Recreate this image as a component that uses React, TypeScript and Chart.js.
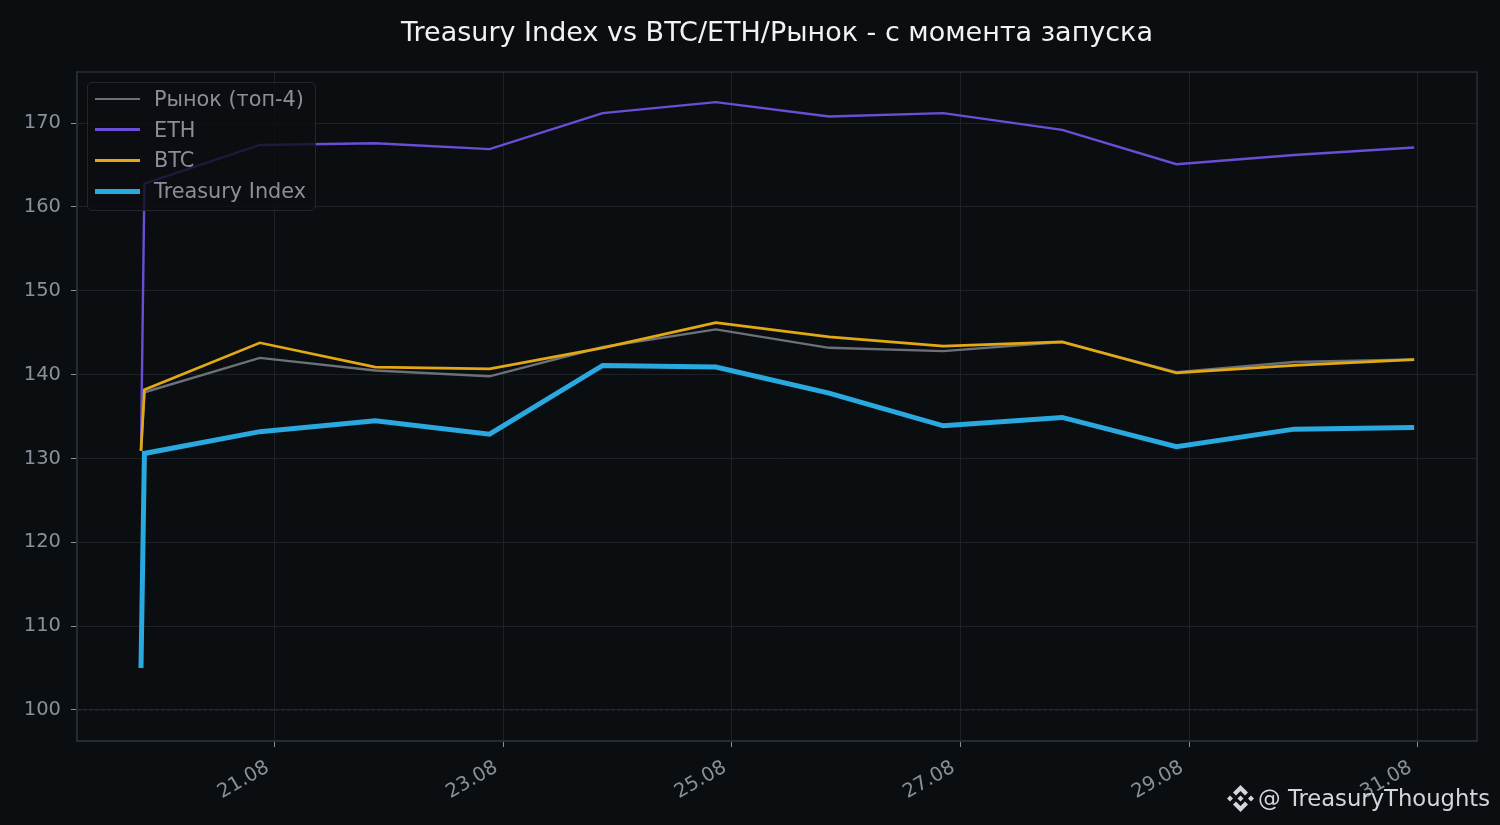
import { useEffect, useRef } from 'react';
import { Chart, registerables } from 'chart.js';
import type { Plugin } from 'chart.js';

Chart.register(...registerables);

// x: day of August (fractional), one point per daily close
const DAYS = [19.83, 19.86, 20.87, 21.88, 22.88, 23.87, 24.86, 25.85, 26.85, 27.89, 28.89, 29.92, 30.97];
const MARKET = [130.9, 137.9, 142.0, 140.5, 139.8, 143.3, 145.4, 143.2, 142.8, 143.9, 140.3, 141.5, 141.8];
const ETH = [130.9, 162.8, 167.4, 167.6, 166.9, 171.2, 172.5, 170.8, 171.2, 169.2, 165.1, 166.2, 167.1];
const BTC = [130.9, 138.2, 143.8, 140.9, 140.7, 143.2, 146.2, 144.5, 143.4, 143.9, 140.2, 141.1, 141.8];
const TREASURY = [105.0, 130.6, 133.2, 134.5, 132.9, 141.1, 140.9, 137.8, 133.9, 134.9, 131.4, 133.5, 133.7];

const X_TICKS = [21, 23, 25, 27, 29, 31]; // labelled days
const Y_TICKS = [100, 110, 120, 130, 140, 150, 160, 170];
const BASELINE = 100; // launch level, dashed
const X_MIN = 19.27;
const X_MAX = 31.52;
const Y_MIN = 96.3;
const Y_MAX = 176.1;

const TITLE = 'Treasury Index vs BTC/ETH/Рынок - с момента запуска';
const WATERMARK = '@ TreasuryThoughts';

const BG = '#0b0e11';
const GRID = '#1e2227';
const SPINE = '#2a2e35';
const TICK_TEXT = '#8a9099';
const FONT = "'DejaVu Sans', sans-serif";

// legend order = list order, later entries drawn on top
const SERIES = [
  { label: 'Рынок (топ-4)', values: MARKET, color: '#6c7179', width: 2.4 },
  { label: 'ETH', values: ETH, color: '#6a4ed6', width: 2.4 },
  { label: 'BTC', values: BTC, color: '#e2a914', width: 2.7 },
  { label: 'Treasury Index', values: TREASURY, color: '#29a9e0', width: 5 },
];

// spines on top/right + dashed line at 100
const framePlugin: Plugin = {
  id: 'frame',
  beforeDatasetsDraw(chart) {
    const { ctx, chartArea, scales } = chart;
    const y = scales.y.getPixelForValue(BASELINE);
    ctx.save();
    ctx.strokeStyle = SPINE;
    ctx.lineWidth = 1.2;
    ctx.setLineDash([4, 2]);
    ctx.beginPath();
    ctx.moveTo(chartArea.left, y);
    ctx.lineTo(chartArea.right, y);
    ctx.stroke();
    ctx.setLineDash([]);
    ctx.lineWidth = 1.5;
    ctx.strokeRect(chartArea.left, chartArea.top, chartArea.right - chartArea.left, chartArea.bottom - chartArea.top);
    ctx.restore();
  },
};

// title centred over the plot area
const titlePlugin: Plugin = {
  id: 'plotTitle',
  afterDraw(chart) {
    const { ctx, chartArea } = chart;
    ctx.save();
    ctx.fillStyle = '#f2f2f2';
    ctx.font = `27px ${FONT}`;
    ctx.textAlign = 'center';
    ctx.textBaseline = 'middle';
    ctx.fillText(TITLE, (chartArea.left + chartArea.right) / 2, 34);
    ctx.restore();
  },
};

function BinanceMark() {
  return (
    <svg width="27" height="27" viewBox="0 0 27 27" style={{ position: 'absolute', left: 1227, top: 785 }}>
      <g fill="#d3d6da">
        <polygon points="0,13.5 3,10.5 6,13.5 3,16.5" />
        <polygon points="21,13.5 24,10.5 27,13.5 24,16.5" />
        <polygon points="10.5,13.5 13.5,10.5 16.5,13.5 13.5,16.5" />
        <polygon points="13.5,0 21,7.5 18,10.5 13.5,6 9,10.5 6,7.5" />
        <polygon points="13.5,27 21,19.5 18,16.5 13.5,21 9,16.5 6,19.5" />
      </g>
    </svg>
  );
}

export default function App() {
  const canvasRef = useRef<HTMLCanvasElement>(null);
  const chartRef = useRef<Chart | null>(null);

  useEffect(() => {
    if (!canvasRef.current) return;
    chartRef.current?.destroy();

    chartRef.current = new Chart(canvasRef.current, {
      type: 'line',
      data: {
        datasets: SERIES.map((s, i) => ({
          label: s.label,
          data: DAYS.map((d, k) => ({ x: d, y: s.values[k] })),
          borderColor: s.color,
          backgroundColor: s.color,
          borderWidth: s.width,
          pointRadius: 0,
          tension: 0,
          order: SERIES.length - i, // last series on top
        })),
      },
      options: {
        animation: false,
        responsive: true,
        maintainAspectRatio: false,
        layout: { padding: { top: 72, right: 23, left: 0, bottom: 0 } },
        plugins: {
          legend: { display: false },
          tooltip: { enabled: false },
        },
        scales: {
          x: {
            type: 'linear',
            min: X_MIN,
            max: X_MAX,
            afterBuildTicks: (scale) => {
              scale.ticks = X_TICKS.map((v) => ({ value: v }));
            },
            afterFit: (scale) => {
              scale.height = 84;
            },
            ticks: {
              color: TICK_TEXT,
              font: { family: FONT, size: 19.5 },
              maxRotation: 30,
              minRotation: 30,
              padding: 9,
              labelOffset: -7,
              callback: (v) => `${String(v).padStart(2, '0')}.08`,
            },
            grid: { color: GRID, lineWidth: 1, tickLength: 6, tickColor: TICK_TEXT },
            border: { color: SPINE, width: 1.5 },
          },
          y: {
            type: 'linear',
            min: Y_MIN,
            max: Y_MAX,
            afterBuildTicks: (scale) => {
              scale.ticks = Y_TICKS.map((v) => ({ value: v }));
            },
            afterFit: (scale) => {
              scale.width = 77;
            },
            ticks: {
              color: TICK_TEXT,
              font: { family: FONT, size: 19.5 },
              padding: 10,
            },
            grid: { color: GRID, lineWidth: 1, tickLength: 6, tickColor: TICK_TEXT },
            border: { color: SPINE, width: 1.5 },
          },
        },
      },
      plugins: [framePlugin, titlePlugin],
    });

    return () => {
      chartRef.current?.destroy();
      chartRef.current = null;
    };
  }, []);

  return (
    <div style={{ position: 'fixed', left: 0, top: 0, width: 1500, height: 825, background: BG, fontFamily: FONT }}>
      <canvas ref={canvasRef} width={1500} height={825}></canvas>

      {/* legend box inside the plot, top-left */}
      <div
        style={{
          position: 'absolute',
          left: 87,
          top: 82,
          width: 227,
          height: 127,
          border: '1px solid #23272d',
          borderRadius: 5,
          background: 'rgba(11,14,17,0.8)',
        }}
      >
        {SERIES.map((s, i) => (
          <div key={s.label} style={{ position: 'absolute', left: 7, top: 2 + i * 30.7, height: 28, display: 'flex', alignItems: 'center' }}>
            <span style={{ display: 'inline-block', width: 45, height: s.width, background: s.color }}></span>
            <span style={{ marginLeft: 14, fontSize: 20.8, color: TICK_TEXT, whiteSpace: 'nowrap' }}>{s.label}</span>
          </div>
        ))}
      </div>

      <BinanceMark />
      <div style={{ position: 'absolute', left: 1258, top: 785, fontSize: 22.7, color: '#d3d6da', whiteSpace: 'nowrap', lineHeight: '27px' }}>
        {WATERMARK}
      </div>
    </div>
  );
}
